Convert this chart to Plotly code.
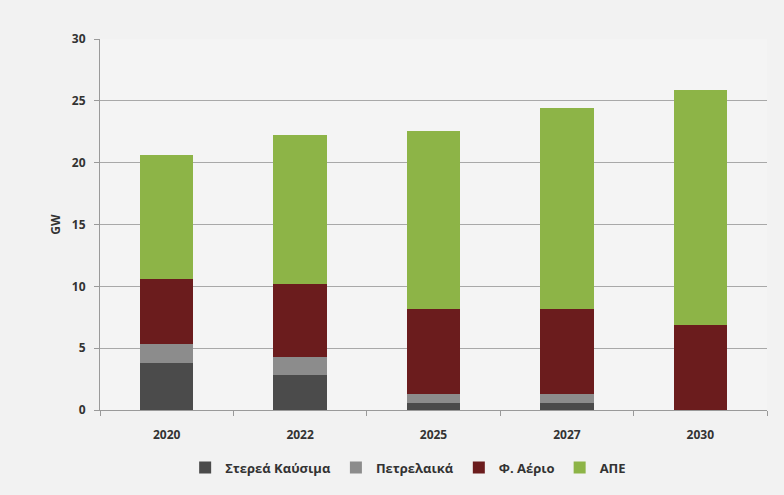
import plotly.graph_objects as go

years = ["2020", "2022", "2025", "2027", "2030"]
solid = [3.8, 2.8, 0.6, 0.6, 0.0]
oil = [1.5, 1.5, 0.7, 0.7, 0.0]
gas = [5.3, 5.9, 6.9, 6.85, 6.9]
res = [10.0, 12.0, 14.4, 16.25, 19.0]
names = ["Στερεά Καύσιμα", "Πετρελαικά", "Φ. Αέριο", "ΑΠΕ"]
colors = ["#4b4b4b", "#8c8c8c", "#6b1c1d", "#8db447"]

fig = go.Figure()
for n, vals, c in zip(names, [solid, oil, gas, res], colors):
    fig.add_trace(go.Bar(x=years, y=vals, name=n, marker=dict(color=c, line=dict(width=0))))

font = "Open Sans"
fig.update_layout(
    barmode="stack",
    bargap=0.6,
    width=784, height=495,
    margin=dict(l=100, r=17, t=39, b=85),
    paper_bgcolor="#f2f2f2",
    plot_bgcolor="#f4f4f4",
    font=dict(family=font, size=12, color="#333333"),
    showlegend=True,
    legend=dict(orientation="h", x=0.462, xanchor="center", y=-0.155, yanchor="middle",
                font=dict(family=font, size=13, color="#333333", weight="bold"),
                itemwidth=30, traceorder="normal", bgcolor="rgba(0,0,0,0)"),
    xaxis=dict(type="category", showline=True, linecolor="#9a9a9a", linewidth=1,
               ticks="outside", tickson="boundaries", ticklen=5, tickcolor="#9a9a9a",
               ticklabelstandoff=14,
               tickfont=dict(family=font, size=12, color="#333333", weight="bold")),
    yaxis=dict(range=[0, 30], dtick=5, showgrid=True, gridcolor="#a8a8a8", gridwidth=1,
               showline=True, linecolor="#9a9a9a", ticks="outside", ticklen=5, tickcolor="#9a9a9a",
               zeroline=False, ticklabelstandoff=6,
               tickfont=dict(family=font, size=12, color="#333333", weight="bold"),
               title=dict(text="GW", font=dict(family=font, size=12, color="#333333", weight="bold"),
                          standoff=8)),
)

fig.write_html("out.html")
